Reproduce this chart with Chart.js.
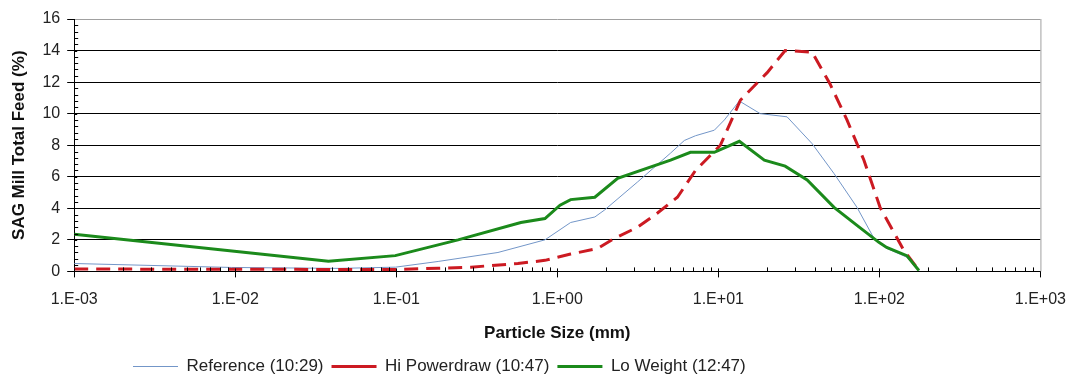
<!DOCTYPE html>
<html>
<head>
<meta charset="utf-8">
<script src="https://cdn.jsdelivr.net/npm/chart.js@4.4.1/dist/chart.umd.min.js"></script>
<style>
  html, body { margin: 0; padding: 0; background: #fff; }
  #wrap { width: 1079px; height: 385px; }
</style>
</head>
<body>
<div id="wrap"><canvas id="myChart"></canvas></div>
<script>
// particle size (mm) and % values
const refSize = [0.001, 0.0095, 0.044, 0.099, 0.182, 0.428, 0.838, 1.21, 1.71, 1.97, 3.15, 5.05, 6.15, 7.21, 9.44, 10.9, 13.5, 18.2, 26.7, 38.2, 52.3, 72.6, 92.5, 111, 148, 176];
const refVals = [0.5, 0.25, 0.19, 0.27, 0.63, 1.2, 2.0, 3.1, 3.45, 3.9, 5.67, 7.5, 8.3, 8.6, 8.95, 9.6, 10.8, 10.0, 9.8, 8.1, 6.2, 4.06, 2.1, 1.46, 0.9, 0.06];

const hiSize = [0.001, 0.0986, 0.182, 0.291, 0.569, 0.838, 1.21, 1.78, 2.27, 3.15, 4.19, 5.57, 7.21, 10.3, 13.7, 20.1, 26.0, 38.2, 49.3, 62.9, 80.2, 101, 142, 176];
const hiVals = [0.15, 0.12, 0.2, 0.27, 0.5, 0.7, 1.1, 1.45, 2.1, 2.8, 3.7, 4.7, 6.4, 8.0, 10.85, 12.6, 14.0, 13.9, 11.9, 9.6, 7.05, 4.06, 1.33, 0.06];

const loSize = [0.001, 0.0379, 0.0986, 0.242, 0.594, 0.838, 1.04, 1.21, 1.71, 2.37, 5.05, 6.71, 9.44, 13.5, 19.3, 26.0, 35.6, 52.3, 72.6, 99.3, 111, 148, 176];
const loVals = [2.35, 0.65, 1.0, 2.0, 3.1, 3.35, 4.2, 4.55, 4.7, 5.9, 7.05, 7.55, 7.55, 8.25, 7.05, 6.67, 5.8, 4.06, 2.92, 1.84, 1.52, 1.0, 0.06];

const seriesNames = ["Reference (10:29)", "Hi Powerdraw (10:47)", "Lo Weight (12:47)"];
const xTickValues = [0.001, 0.01, 0.1, 1, 10, 100, 1000];

const FONT = "'Liberation Sans', Arial, sans-serif";

function toPoints(sizes, vals) {
  return sizes.map((s, i) => ({ x: s, y: vals[i] }));
}

// Excel style labels: 1.E-03, 1.E+00 ...
function excelExp(v) {
  const e = Math.round(Math.log10(v));
  const sign = e < 0 ? "-" : "+";
  return "1.E" + sign + String(Math.abs(e)).padStart(2, "0");
}

// gray frame on the right and the small minor ticks
const framePlugin = {
  id: "frame",
  afterDatasetsDraw(chart) {
    const { ctx, chartArea, scales } = chart;
    ctx.save();
    ctx.strokeStyle = "#a0a0a0";
    ctx.lineWidth = 1;
    ctx.beginPath();
    ctx.moveTo(chartArea.right + 0.5, chartArea.top);
    ctx.lineTo(chartArea.right + 0.5, chartArea.bottom);
    ctx.stroke();

    ctx.strokeStyle = "#000";
    ctx.beginPath();
    const y = scales.y;
    for (let v = 0.4; v < 16; v += 0.4) {
      const py = Math.round(y.getPixelForValue(v)) + 0.5;
      const len = Math.abs(v / 2 - Math.round(v / 2)) < 1e-6 ? 3 : 4;
      ctx.moveTo(chartArea.left, py);
      ctx.lineTo(chartArea.left + len, py);
    }
    const x = scales.x;
    for (let d = 0.001; d < 1000; d *= 10) {
      for (let k = 1; k <= 9; k++) {
        const px = Math.round(x.getPixelForValue(k * d)) + 0.5;
        ctx.moveTo(px, chartArea.bottom);
        ctx.lineTo(px, chartArea.bottom - (k === 1 ? 3 : 4));
      }
    }
    ctx.stroke();
    ctx.restore();
  },
  afterLayout(chart) {
    // legend sits left of centre in the original
    if (chart.legend) chart.legend.left = 125;
  },
};

const ctx = document.getElementById("myChart").getContext("2d");
const myChart = new Chart(ctx, {
  type: "line",
  data: {
    datasets: [
      {
        label: seriesNames[0],
        data: toPoints(refSize, refVals),
        borderColor: "#7396c8",
        backgroundColor: "#7396c8",
        borderWidth: 1,
        order: 3,
      },
      {
        label: seriesNames[1],
        data: toPoints(hiSize, hiVals),
        borderColor: "#cc1a22",
        backgroundColor: "#cc1a22",
        borderWidth: 3,
        borderDash: [14, 8],
        order: 2,
      },
      {
        label: seriesNames[2],
        data: toPoints(loSize, loVals),
        borderColor: "#1b8a1b",
        backgroundColor: "#1b8a1b",
        borderWidth: 3,
        order: 1,
      },
    ],
  },
  options: {
    responsive: true,
    maintainAspectRatio: false,
    animation: false,
    events: [],
    layout: {
      padding: { left: 9, right: 35, top: 19, bottom: 0 },
    },
    elements: {
      point: { radius: 0 },
      line: { tension: 0 },
    },
    plugins: {
      tooltip: { enabled: false },
      legend: {
        position: "bottom",
        align: "start",
        labels: {
          boxWidth: 45,
          boxHeight: 0,
          padding: 8,
          color: "#222",
          font: { family: FONT, size: 17 },
          sort: (a, b) => a.datasetIndex - b.datasetIndex,
        },
      },
    },
    scales: {
      x: {
        type: "logarithmic",
        min: 0.001,
        max: 1000,
        afterBuildTicks: (scale) => {
          scale.ticks = xTickValues.map((v) => ({ value: v }));
        },
        ticks: {
          autoSkip: false,
          maxRotation: 0,
          color: "#222",
          font: { family: FONT, size: 16 },
          padding: 13,
          callback: (value) => excelExp(value),
        },
        grid: {
          drawOnChartArea: false,
          drawTicks: true,
          tickLength: 6,
          color: "#000",
        },
        border: { color: "#000" },
        title: {
          display: true,
          text: "Particle Size (mm)",
          color: "#111",
          font: { family: FONT, size: 17, weight: "bold" },
          padding: { top: 1, bottom: 6 },
        },
      },
      y: {
        min: 0,
        max: 16,
        ticks: {
          stepSize: 2,
          color: "#222",
          font: { family: FONT, size: 16 },
          padding: 7,
        },
        grid: {
          color: (c) => (c.tick && c.tick.value === 16 ? "#a0a0a0" : "#000"),
          tickColor: "#000",
          tickLength: 7,
        },
        border: { color: "#000" },
        title: {
          display: true,
          text: "SAG Mill Total Feed (%)",
          color: "#111",
          font: { family: FONT, size: 17, weight: "bold" },
          padding: { top: 0, bottom: 6 },
        },
      },
    },
  },
  plugins: [framePlugin],
});
</script>
</body>
</html>
